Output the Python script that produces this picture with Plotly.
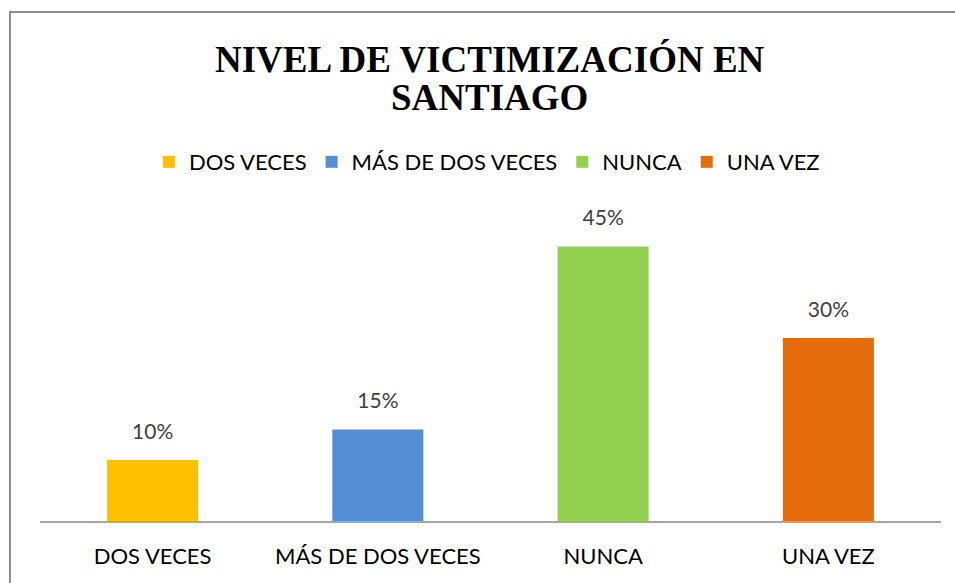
import plotly.graph_objects as go

categories = ["DOS VECES", "MÁS DE DOS VECES", "NUNCA", "UNA VEZ"]
values = [10, 15, 45, 30]
colors = ["#FFC000", "#558ED5", "#92D050", "#E46C0A"]
title_lines = ["NIVEL DE VICTIMIZACIÓN EN", "SANTIAGO"]

sans = "Lato, 'Open Sans', sans-serif"
serif = "'Liberation Serif', 'Times New Roman', serif"

fig = go.Figure()
for cat, val, col in zip(categories, values, colors):
    fig.add_trace(go.Bar(
        x=[cat],
        y=[val],
        name=cat,
        marker=dict(color=col, line=dict(width=0)),
    ))

# percentage labels floating above the bars
fig.add_trace(go.Scatter(
    x=categories,
    y=values,
    mode="markers+text",
    text=[f"{v}%" for v in values],
    textposition="top center",
    textfont=dict(family=sans, size=21, color="#404040"),
    marker=dict(size=24, opacity=0),
    showlegend=False,
    hoverinfo="skip",
    cliponaxis=False,
))

# two-line title, tighter line spacing than plotly's title allows
for line, ypos in zip(title_lines, [1.512, 1.390]):
    fig.add_annotation(
        text=line, xref="paper", yref="paper",
        x=0.4994, y=ypos, xanchor="center", yanchor="middle",
        showarrow=False,
        font=dict(family=serif, size=37, color="black", weight="bold"),
    )

# outer chart border (cut off at right and bottom like the reference)
fig.add_shape(type="rect", xref="paper", yref="paper",
              x0=-0.0333, x1=1.2, y0=-0.5, y1=1.669,
              line=dict(color="#8C8C8C", width=2), fillcolor="rgba(0,0,0,0)",
              layer="below")

fig.update_layout(
    width=955,
    height=583,
    paper_bgcolor="white",
    plot_bgcolor="white",
    barmode="overlay",
    bargap=0.596,
    legend=dict(
        orientation="h",
        x=0.496, xanchor="center",
        y=1.177, yanchor="middle",
        font=dict(family=sans, size=22, color="black"),
        bgcolor="rgba(0,0,0,0)",
        itemclick=False,
    ),
    xaxis=dict(
        showline=True,
        linecolor="#A6A6A6",
        linewidth=2,
        showgrid=False,
        ticks="",
        ticklabelstandoff=15,
        tickfont=dict(family=sans, size=22, color="black"),
    ),
    yaxis=dict(
        range=[0, 50],
        visible=False,
        showgrid=False,
    ),
    margin=dict(l=40, r=14, t=216, b=62),
    showlegend=True,
)

fig.write_html("out.html", config={"displayModeBar": False},
               post_script="document.body.style.margin='0';")
